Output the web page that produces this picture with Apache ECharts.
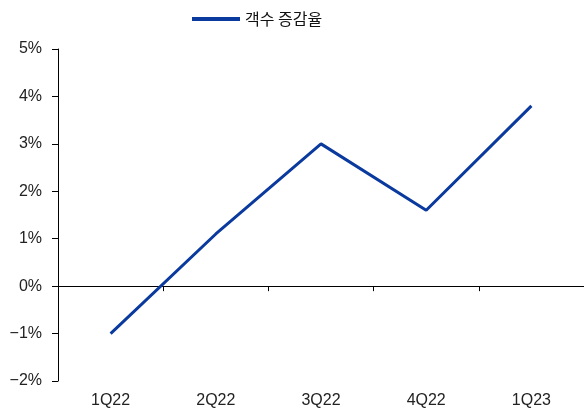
<!DOCTYPE html>
<html>
<head>
<meta charset="utf-8">
<script src="https://cdn.jsdelivr.net/npm/echarts@6/dist/echarts.min.js"></script>
<style>
html,body{margin:0;padding:0;background:#fff;}
#chart{width:584px;height:412px;}
</style>
</head>
<body>
<div id="chart"></div>
<script>
// Quarterly customer-count change rate (%)
const categories = ['1Q22', '2Q22', '3Q22', '4Q22', '1Q23'];
const seriesName = '객수 증감율';
const growthRate = [-1.0, 1.1, 3.0, 1.6, 3.8];
const yMin = -2, yMax = 5, yStep = 1;

const font = '"Liberation Sans", Arial, sans-serif';
const chart = echarts.init(document.getElementById('chart'), null, { renderer: 'canvas' });

chart.setOption({
  animation: false,
  backgroundColor: '#fff',
  legend: {
    top: 6,
    left: 187,
    itemWidth: 48,
    itemHeight: 4,
    icon: 'rect',
    textStyle: { fontFamily: '"Noto Sans CJK KR", sans-serif', fontSize: 16, color: '#111' },
    data: [{ name: seriesName, icon: 'rect' }]
  },
  grid: { left: 58, right: 0, top: 49, bottom: 31 },
  xAxis: [
    {
      // zero baseline with boundary ticks
      type: 'category',
      data: categories,
      boundaryGap: true,
      axisLine: { onZero: true, lineStyle: { color: '#000', width: 1 } },
      axisTick: { show: true, length: 5, lineStyle: { color: '#000' } },
      axisLabel: { show: false },
      splitLine: { show: false }
    },
    {
      // category labels along the bottom edge
      type: 'category',
      data: categories,
      position: 'bottom',
      boundaryGap: true,
      axisLine: { show: false, onZero: false },
      axisTick: { show: false },
      axisLabel: { margin: 12, fontFamily: font, fontSize: 16, color: '#222' },
      splitLine: { show: false }
    }
  ],
  yAxis: {
    type: 'value',
    min: yMin,
    max: yMax,
    interval: yStep,
    axisLine: { show: true, lineStyle: { color: '#000', width: 1 } },
    axisTick: { show: true, length: 6, lineStyle: { color: '#000' } },
    axisLabel: {
      margin: 16,
      fontFamily: font,
      fontSize: 16,
      color: '#222',
      formatter: v => (v < 0 ? '\u2212' + Math.abs(v) : v) + '%'
    },
    splitLine: { show: false }
  },
  series: [{
    name: seriesName,
    type: 'line',
    xAxisIndex: 0,
    data: growthRate,
    symbol: 'none',
    lineStyle: { color: '#0a3a9e', width: 3 },
    itemStyle: { color: '#0a3a9e' }
  }]
});
</script>
</body>
</html>
